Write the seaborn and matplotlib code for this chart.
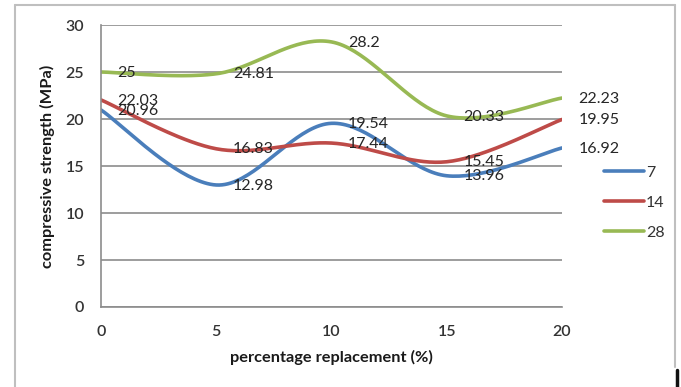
import numpy as np
import pandas as pd
import matplotlib
matplotlib.use("Agg")
import matplotlib.pyplot as plt
from matplotlib.lines import Line2D
import seaborn as sns

# Compressive strength (MPa) by percentage replacement, per curing age (days)
replacement = [0, 5, 10, 15, 20]
ages = ["7", "14", "28"]
strength_7 = [20.96, 12.98, 19.54, 13.96, 16.92]
strength_14 = [22.03, 16.83, 17.44, 15.45, 19.95]
strength_28 = [25, 24.81, 28.2, 20.33, 22.23]
colors = ["#4a7ebb", "#be4b48", "#98b954"]


def smooth(xs, ys, n=40):
    """Bezier smoothing through every point (Catmull-Rom style control points)."""
    p = np.column_stack([xs, ys]).astype(float)
    ext = np.vstack([p[0], p, p[-1]])
    out = []
    for i in range(len(p) - 1):
        p0, p1, p2, p3 = ext[i], ext[i + 1], ext[i + 2], ext[i + 3]
        c1 = p1 + (p2 - p0) / 6.0
        c2 = p2 - (p3 - p1) / 6.0
        t = np.linspace(0, 1, n, endpoint=(i == len(p) - 2))[:, None]
        seg = ((1 - t) ** 3) * p1 + 3 * ((1 - t) ** 2) * t * c1 + 3 * (1 - t) * t ** 2 * c2 + t ** 3 * p2
        out.append(seg)
    return np.vstack(out)


rows = []
for age, vals in zip(ages, [strength_7, strength_14, strength_28]):
    curve = smooth(replacement, vals)
    for k, (cx, cy) in enumerate(curve):
        rows.append({"age": age, "order": k, "x": cx, "y": cy})
df = pd.DataFrame(rows)

sns.set_style("white")
plt.rcParams["font.family"] = ["Lato", "DejaVu Sans"]

fig = plt.figure(figsize=(6.81, 3.87), dpi=100)
ax = fig.add_axes([101 / 681, 1 - 307 / 387, (562 - 101) / 681, (307 - 25) / 387])

sns.lineplot(data=df, x="x", y="y", hue="age", hue_order=ages, palette=colors,
             sort=False, estimator=None, units="age", linewidth=2.6, ax=ax, legend=False)

# Data labels to the right of each point
for vals in [strength_7, strength_14, strength_28]:
    for xv, yv in zip(replacement, vals):
        ax.annotate(f"{yv:g}", (xv, yv), xytext=(12, -0.5), textcoords="offset points",
                    ha="left", va="center", fontsize=11.5, color="#262626")

ax.set_xlim(0, 20)
ax.set_ylim(0, 30)
ax.set_xticks(replacement)
ax.set_yticks([0, 5, 10, 15, 20, 25, 30])
ax.yaxis.grid(True, color="#8c8c8c", linewidth=1.2)
ax.set_axisbelow(True)
for side in ["top", "right"]:
    ax.spines[side].set_visible(False)
for side in ["left", "bottom"]:
    ax.spines[side].set_color("#8c8c8c")
    ax.spines[side].set_linewidth(1.2)
ax.tick_params(axis="both", length=0, labelsize=11.5, labelcolor="#333333")
ax.tick_params(axis="y", pad=12)
ax.tick_params(axis="x", pad=13)
for lab in ax.get_xticklabels() + ax.get_yticklabels():
    lab.set_fontweight("semibold")

ax.set_xlabel("percentage replacement (%)", fontsize=11.8, fontweight="bold", color="#1a1a1a", labelpad=8)
ax.set_ylabel("compressive strength (MPa)", fontsize=11.8, fontweight="bold", color="#1a1a1a", labelpad=8)

handles = [Line2D([0], [0], color=c, linewidth=2.6) for c in colors]
fig.legend(handles, ages, loc="upper left", bbox_to_anchor=(590 / 681, 1 - 151 / 387),
           frameon=False, handlelength=2.5, handletextpad=0.1, labelspacing=1.0,
           fontsize=11.5, labelcolor="#333333")

# Chart frame
frame_kw = dict(color="#bfbfbf", linewidth=1.5, transform=fig.transFigure)
fig.add_artist(Line2D([15 / 681, 675 / 681], [1 - 5 / 387, 1 - 5 / 387], **frame_kw))
fig.add_artist(Line2D([15 / 681, 15 / 681], [0, 1 - 5 / 387], **frame_kw))
fig.add_artist(Line2D([675 / 681, 675 / 681], [20 / 387, 1 - 5 / 387], **frame_kw))
fig.add_artist(Line2D([676.5 / 681, 676.5 / 681], [0, 17 / 387], color="#111111", linewidth=2.5,
                      transform=fig.transFigure))

fig.savefig("out.png", dpi=100)
